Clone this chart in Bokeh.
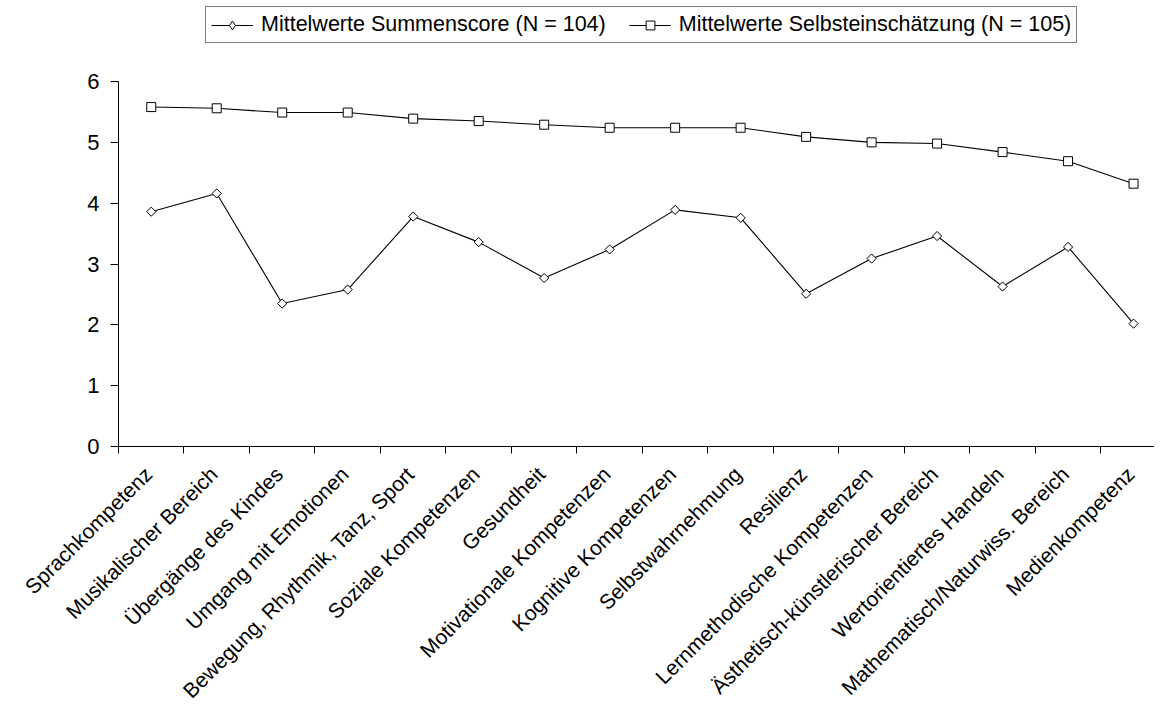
import math
from bokeh.plotting import figure
from bokeh.layouts import column
from bokeh.models import (Range1d, FixedTicker, Legend, LegendItem, LabelSet,
                          ColumnDataSource)
from bokeh.core.properties import value
from bokeh.embed import file_html
from bokeh.resources import INLINE

categories = [
    "Sprachkompetenz", "Musikalischer Bereich", "Übergänge des Kindes",
    "Umgang mit Emotionen", "Bewegung, Rhythmik, Tanz, Sport",
    "Soziale Kompetenzen", "Gesundheit", "Motivationale Kompetenzen",
    "Kognitive Kompetenzen", "Selbstwahrnehmung", "Resilienz",
    "Lernmethodische Kompetenzen", "Ästhetisch-künstlerischer Bereich",
    "Wertorientiertes Handeln", "Mathematisch/Naturwiss. Bereich",
    "Medienkompetenz",
]
summenscore = [3.86, 4.16, 2.35, 2.58, 3.78, 3.36, 2.77, 3.24,
               3.89, 3.76, 2.51, 3.09, 3.46, 2.63, 3.28, 2.02]
selbsteinschaetzung = [5.58, 5.56, 5.49, 5.49, 5.39, 5.35, 5.29, 5.24,
                       5.24, 5.24, 5.09, 5.00, 4.98, 4.84, 4.69, 4.32]
y_ticks = [0, 1, 2, 3, 4, 5, 6]
label1 = "Mittelwerte Summenscore (N = 104)"
label2 = "Mittelwerte Selbsteinschätzung (N = 105)"

xs = list(range(len(categories)))
FONT = "Liberation Sans"

# ---- main chart ----
p = figure(width=1154, height=458, output_backend="svg", toolbar_location=None,
           x_range=Range1d(-0.5, 15.32), y_range=Range1d(0, 7.332),
           min_border_left=118, min_border_right=0, min_border_top=0,
           min_border_bottom=12)
p.outline_line_color = None
p.xgrid.visible = False
p.ygrid.visible = False
p.background_fill_color = "white"
p.border_fill_color = "white"

src1 = ColumnDataSource(dict(x=xs, y=summenscore))
src2 = ColumnDataSource(dict(x=xs, y=selbsteinschaetzung))

l1 = p.line("x", "y", source=src1, line_color="black", line_width=1.1)
# diamond swatch for the legend (drawn underneath, hidden by the rotated squares)
leg_d = p.scatter("x", "y", source=src1, marker="diamond", size=8,
                  fill_color="white", line_color="black", line_width=1)
m1 = p.scatter("x", "y", source=src1, marker="square", size=6.5, angle=math.pi / 4,
               fill_color="white", line_color="black", line_width=1)
l2 = p.line("x", "y", source=src2, line_color="black", line_width=1.1)
m2 = p.scatter("x", "y", source=src2, marker="square", size=9,
               fill_color="white", line_color="black", line_width=1)

# x axis: tick marks at category boundaries (labels drawn in the panel below)
xa = p.xaxis[0]
xa.ticker = FixedTicker(ticks=[], minor_ticks=[x - 0.5 for x in xs] + [len(xs) - 0.5])
xa.major_tick_out = 0
xa.major_tick_in = 0
xa.minor_tick_out = 7
xa.minor_tick_in = 0
xa.minor_tick_line_color = "black"
xa.axis_line_color = "black"

# y axis
ya = p.yaxis[0]
ya.ticker = FixedTicker(ticks=y_ticks)
ya.bounds = (0, 6)
ya.major_tick_out = 8
ya.major_tick_in = 0
ya.minor_tick_line_color = None
ya.axis_line_color = "black"
ya.major_tick_line_color = "black"
ya.major_label_text_font = FONT
ya.major_label_text_font_size = "22px"
ya.major_label_text_color = "black"
ya.major_label_standoff = 11

legend = Legend(items=[LegendItem(label=label1, renderers=[l1, leg_d]),
                       LegendItem(label=label2, renderers=[l2, m2])],
                orientation="horizontal", location=(87, 403))
legend.margin = 0
legend.padding = 5
legend.spacing = 23
legend.glyph_width = 42
legend.glyph_height = 22
legend.label_height = 22
legend.label_standoff = 8
legend.label_text_font = FONT
legend.label_text_font_size = "21.5px"
legend.label_text_color = "black"
legend.border_line_color = "black"
legend.border_line_width = 1
legend.background_fill_color = "white"
legend.background_fill_alpha = 1
p.add_layout(legend, "center")

# ---- category labels (rotated 45°), same x scale as the chart above ----
q = figure(width=1154, height=247, output_backend="svg", toolbar_location=None,
           y_range=Range1d(0, 1),
           x_axis_location=None, y_axis_location=None,
           min_border_left=0, min_border_right=0, min_border_top=0,
           min_border_bottom=0)
q.outline_line_color = None
q.xgrid.visible = False
q.ygrid.visible = False
q.background_fill_color = "white"
q.border_fill_color = "white"

try:
    # let the label panel's frame span the full width (no frame alignment)
    p.frame_align = False
    q.frame_align = False
    q.x_range = Range1d(-2.3015, 15.317)
except Exception:
    q.x_range = Range1d(-0.5, 15.32)

cat_src = ColumnDataSource(dict(x=xs, text=categories))
q.add_layout(LabelSet(source=cat_src, x="x", y=1, text="text",
                      angle=math.pi / 4, text_align="right", text_baseline="middle",
                      x_offset=-3, y_offset=-12, text_font=value(FONT),
                      text_font_size=value("21px"), text_color="black"))

layout = column(p, q, spacing=0)
open("out.html", "w").write(file_html(layout, INLINE))
